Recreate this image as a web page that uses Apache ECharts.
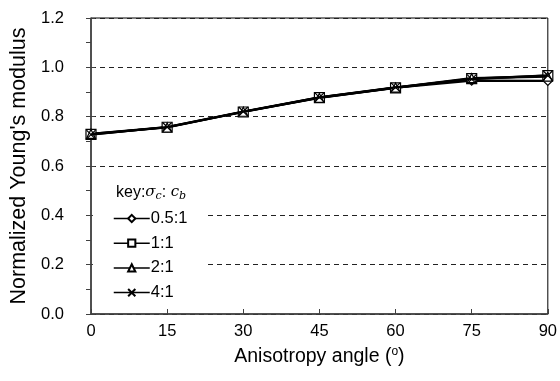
<!DOCTYPE html>
<html><head><meta charset="utf-8">
<script src="https://cdn.jsdelivr.net/npm/echarts@6/dist/echarts.min.js"></script>
<style>html,body{margin:0;padding:0;background:#fff}#c{width:560px;height:381px}</style>
</head><body><div id="c"></div>
<script>
var angles = [0, 15, 30, 45, 60, 75, 90];
var seriesNames = ['0.5:1', '1:1', '2:1', '4:1'];
var s05 = [0.730, 0.758, 0.820, 0.878, 0.918, 0.946, 0.945];
var s1 = [0.728, 0.757, 0.819, 0.877, 0.917, 0.954, 0.966];
var s2 = [0.730, 0.756, 0.820, 0.876, 0.918, 0.956, 0.962];
var s4 = [0.727, 0.758, 0.821, 0.878, 0.919, 0.952, 0.967];
var yTicks = [0, 0.2, 0.4, 0.6, 0.8, 1.0, 1.2];

var allSeries = [s05, s1, s2, s4];
var symbols = ['diamond', 'rect', 'triangle', 'path://M0,0L10,10M10,0L0,10'];
var sizes = [9, 10, 9, 9];
var F = 'Liberation Sans, Arial, sans-serif';

var chart = echarts.init(document.getElementById('c'));
var series = allSeries.map(function (arr, i) {
  return {
    name: seriesNames[i], type: 'line',
    data: arr.map(function (v, j) { return [angles[j], v]; }),
    symbol: symbols[i], symbolSize: sizes[i],
    lineStyle: { color: '#000', width: 2.2 },
    itemStyle: { color: '#fff', borderColor: '#000', borderWidth: 1.2 },
    emphasis: { disabled: true }, z: 3 + i
  };
});
chart.setOption({
  animation: false,
  backgroundColor: '#fff',
  grid: { left: 91, right: 9, top: 18, bottom: 67, show: true, borderColor: '#000', borderWidth: 1 },
  title: {
    text: '{n|key:}{i|σ}{sub|c}{n|: }{i|c}{sub|b}',
    left: 111, top: 178,
    textStyle: {
      fontWeight: 'normal',
      rich: {
        n: { fontFamily: F, fontSize: 16, color: '#000', fontWeight: 'normal' },
        i: { fontFamily: 'DejaVu Serif, serif', fontStyle: 'italic', fontWeight: 'normal', fontSize: 15, color: '#000' },
        sub: { fontFamily: 'DejaVu Serif, serif', fontStyle: 'italic', fontWeight: 'normal', fontSize: 11, color: '#000', padding: [8, 0, 0, 0] }
      }
    },
    z: 10
  },
  legend: {
    orient: 'vertical', left: 93, top: 204,
    itemWidth: 36, itemHeight: 9, itemGap: 7.7,
    padding: [6, 18, 6, 20],
    backgroundColor: '#fff',
    lineStyle: { width: 1.5 },
    textStyle: { fontFamily: F, fontSize: 16.5, color: '#000', padding: [0, 0, 0, -4] },
    data: seriesNames,
    z: 9
  },
  xAxis: {
    type: 'value', min: 0, max: 90, interval: 15,
    name: '{a|Anisotropy angle (}{s|o}{a|)}',
    nameLocation: 'middle', nameGap: 32,
    nameTextStyle: { rich: { a: { fontFamily: F, fontSize: 19.5, color: '#000' }, s: { fontFamily: F, fontSize: 12, color: '#000', padding: [0, 0, 10, 0] } } },
    axisLine: { lineStyle: { color: '#404040', width: 1.5 } },
    axisTick: { inside: true, length: 5, lineStyle: { color: '#404040' } },
    axisLabel: { fontFamily: F, fontSize: 16.5, color: '#000', margin: 9 },
    splitLine: { show: false }
  },
  yAxis: [{
    type: 'value', min: 0, max: 1.2, interval: 0.2,
    name: "Normalized Young's modulus",
    nameLocation: 'middle', nameGap: 58,
    nameTextStyle: { fontFamily: F, fontSize: 21.5, color: '#000' },
    axisLine: { lineStyle: { color: '#404040', width: 1.5 } },
    axisTick: { inside: false, length: 5, lineStyle: { color: '#404040' } },
    minorTick: { show: true, splitNumber: 2, length: 5, lineStyle: { color: '#404040' } },
    axisLabel: { fontFamily: F, fontSize: 16.5, color: '#000', margin: 27, formatter: function (v) { return v.toFixed(1); } },
    splitLine: { show: true, lineStyle: { color: '#222', type: [5, 4], width: 1 } }
  }, {
    type: 'value', min: 0, max: 1.2, interval: 0.2, position: 'left',
    axisLine: { show: false },
    axisTick: { show: true, inside: true, length: 4, lineStyle: { color: '#404040' } },
    axisLabel: { show: false }, splitLine: { show: false }
  }],
  series: series
});
</script></body></html>
